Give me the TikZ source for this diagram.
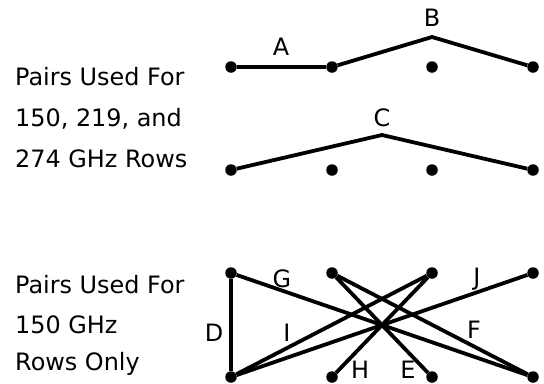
\documentclass[tikz,border=0pt]{standalone}
\usepackage{fontspec}
\setmainfont{DejaVu Sans}
\begin{document}
\begin{tikzpicture}[x=1bp,y=-1bp,
  dot/.style={circle,fill=black,inner sep=0pt,minimum size=11.5bp},
  wire/.style={line width=3.8bp,line join=round},
  lbl/.style={inner sep=0pt,font=\fontsize{24}{28}\selectfont},
  txt/.style={inner sep=0pt,anchor=base west,font=\fontsize{24}{28}\selectfont}]
\useasboundingbox (0,0) rectangle (544,383);
% left texts
\node[txt] (l1) at (15,85) {Pairs Used For};
\node[txt] (l2) at (15,126) {150, 219, and};
\node[txt] (l3) at (15,167) {274 GHz Rows};
\node[txt] (l4) at (15,293) {Pairs Used For};
\node[txt] (l5) at (15,333) {150 GHz};
\node[txt] (l6) at (15,370) {Rows Only};
% dots
\foreach \n/\x in {1/231,2/332,3/432,4/533}{
  \node[dot] (t\n) at (\x,67) {};
  \node[dot] (m\n) at (\x,170) {};
  \node[dot] (a\n) at (\x,273) {};
  \node[dot] (b\n) at (\x,377) {};
}
\coordinate (pB) at (432,37);
\coordinate (pC) at (382,135);
% top connectors
\draw[wire] (t1) -- (t2);
\draw[wire] (t2) -- (pB) -- (t4);
\draw[wire] (m1) -- (pC) -- (m4);
% bottom connectors
\draw[wire] (a1) -- (b1);
\draw[wire] (a1) -- (b4);
\draw[wire] (a2) -- (b3);
\draw[wire] (a2) -- (b4);
\draw[wire] (a3) -- (b2);
\draw[wire] (a3) -- (b1);
\draw[wire] (a4) -- (b1);
% labels
\node[lbl] (lA) at (281,47) {A};
\node[lbl] (lB) at (432,18) {B};
\node[lbl] (lC) at (382,118) {C};
\node[lbl] (lG) at (282,279) {G};
\node[lbl] (lJ) at (477,279) {J};
\node[lbl] (lD) at (214,333) {D};
\node[lbl] (lI) at (287,333) {I};
\node[lbl] (lF) at (474,330) {F};
\node[lbl] (lH) at (360,370) {H};
\node[lbl] (lE) at (408,370) {E};
\end{tikzpicture}
\end{document}
